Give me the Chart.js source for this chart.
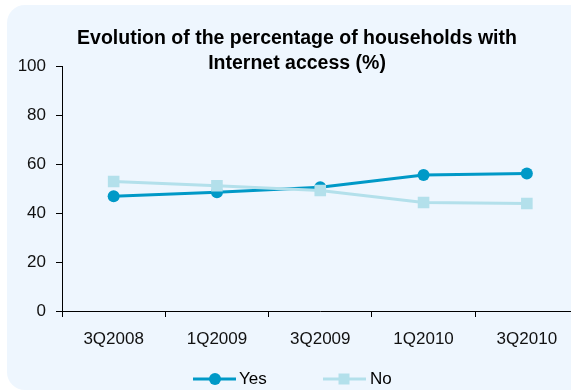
<!DOCTYPE html>
<html>
<head>
<meta charset="utf-8">
<script src="https://cdn.jsdelivr.net/npm/chart.js@4/dist/chart.umd.min.js"></script>
<style>
html,body{margin:0;padding:0;overflow:hidden;background:#fff;width:571px;height:391px;}
canvas{display:block;}
</style>
</head>
<body>
<canvas id="c" width="640" height="391" style="width:640px;height:391px"></canvas>
<script>
const categories = ['3Q2008', '1Q2009', '3Q2009', '1Q2010', '3Q2010'];
const yesValues = [47.0, 48.6, 50.7, 55.7, 56.3];
const noValues = [53.0, 51.3, 49.3, 44.4, 44.0];
const yTicks = [0, 20, 40, 60, 80, 100];
const titleLines = ['Evolution of the percentage of households with', 'Internet access (%)'];
const seriesNames = ['Yes', 'No'];

const YES_COLOR = '#0099C7';
const NO_COLOR = '#B3E0EB';
const FONT = '"Liberation Sans", Arial, sans-serif';

const panelPlugin = {
  id: 'panel',
  beforeDraw(chart) {
    const ctx = chart.ctx;
    ctx.save();
    ctx.fillStyle = '#ffffff';
    ctx.fillRect(0, 0, chart.width, chart.height);
    ctx.fillStyle = '#EEF6FE';
    ctx.beginPath();
    ctx.roundRect(7, 5, chart.width, 385, 18);
    ctx.fill();
    ctx.restore();
  }
};

const titlePlugin = {
  id: 'customTitle',
  afterDraw(chart) {
    const ctx = chart.ctx;
    ctx.save();
    ctx.fillStyle = '#000';
    ctx.font = 'bold 19.5px ' + FONT;
    ctx.textAlign = 'center';
    ctx.textBaseline = 'middle';
    ctx.fillText(titleLines[0], 297, 39);
    ctx.fillText(titleLines[1], 297, 64);
    ctx.restore();
  }
};

const legendPlugin = {
  id: 'customLegend',
  afterDraw(chart) {
    const ctx = chart.ctx;
    const y = 379;
    ctx.save();
    ctx.strokeStyle = YES_COLOR; ctx.lineWidth = 3;
    ctx.beginPath(); ctx.moveTo(193, y); ctx.lineTo(236, y); ctx.stroke();
    ctx.fillStyle = YES_COLOR;
    ctx.beginPath(); ctx.arc(215, y, 6, 0, Math.PI * 2); ctx.fill();
    ctx.strokeStyle = NO_COLOR;
    ctx.beginPath(); ctx.moveTo(323, y); ctx.lineTo(366, y); ctx.stroke();
    ctx.fillStyle = NO_COLOR;
    ctx.fillRect(344 - 5.5, y - 5.5, 11, 11);
    ctx.fillStyle = '#000';
    ctx.font = '17px ' + FONT;
    ctx.textAlign = 'left';
    ctx.textBaseline = 'middle';
    ctx.fillText(seriesNames[0], 239, y);
    ctx.fillText(seriesNames[1], 370, y);
    ctx.restore();
  }
};

new Chart(document.getElementById('c'), {
  type: 'line',
  data: {
    labels: categories,
    datasets: [
      {
        label: seriesNames[0], data: yesValues, order: 2,
        borderColor: YES_COLOR, backgroundColor: YES_COLOR,
        pointBackgroundColor: YES_COLOR, pointBorderColor: YES_COLOR,
        borderWidth: 3, pointStyle: 'circle', pointRadius: 6, pointBorderWidth: 0,
        tension: 0
      },
      {
        label: seriesNames[1], data: noValues, order: 1,
        borderColor: NO_COLOR, backgroundColor: NO_COLOR,
        pointBackgroundColor: NO_COLOR, pointBorderColor: NO_COLOR,
        borderWidth: 3, pointStyle: 'rect', pointRadius: 8.2, pointBorderWidth: 0,
        tension: 0
      }
    ]
  },
  options: {
    responsive: false,
    animation: false,
    events: [],
    layout: { padding: { left: 0, right: 61.5, top: 66.7, bottom: 0 } },
    plugins: { legend: { display: false }, title: { display: false }, tooltip: { enabled: false } },
    scales: {
      x: {
        offset: true,
        grid: { display: true, offset: true, drawOnChartArea: false, color: '#000', tickLength: 6, tickWidth: 1 },
        border: { display: true, color: '#000', width: 1 },
        ticks: { color: '#111', font: { family: FONT, size: 17 }, padding: 12, maxRotation: 0, autoSkip: false },
        afterFit(scale) { scale.height = 80; }
      },
      y: {
        min: 0, max: 100,
        afterBuildTicks(scale) { scale.ticks = yTicks.map(v => ({ value: v })); },
        grid: { display: true, drawOnChartArea: false, color: '#000', tickLength: 6, tickWidth: 1 },
        border: { display: true, color: '#000', width: 1 },
        ticks: { color: '#111', font: { family: FONT, size: 17 }, padding: 10 },
        afterFit(scale) { scale.width = 62; }
      }
    }
  },
  plugins: [panelPlugin, titlePlugin, legendPlugin]
});
</script>
</body>
</html>
